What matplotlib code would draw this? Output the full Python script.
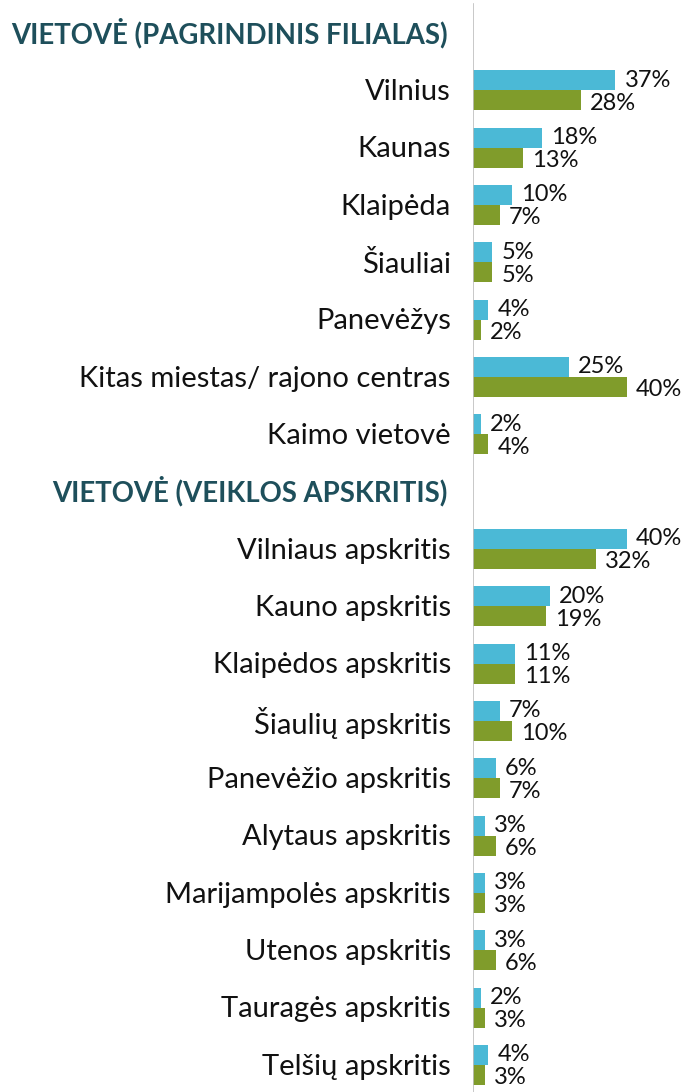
import numpy as np
import matplotlib.pyplot as plt

# rows top to bottom; each section starts with a header slot
headers = ["VIETOVĖ (PAGRINDINIS FILIALAS)", "VIETOVĖ (VEIKLOS APSKRITIS)"]
labels_1 = ["Vilnius", "Kaunas", "Klaipėda", "Šiauliai", "Panevėžys",
            "Kitas miestas/ rajono centras", "Kaimo vietovė"]
blue_1 = [37, 18, 10, 5, 4, 25, 2]
green_1 = [28, 13, 7, 5, 2, 40, 4]
labels_2 = ["Vilniaus apskritis", "Kauno apskritis", "Klaipėdos apskritis",
            "Šiaulių apskritis", "Panevėžio apskritis", "Alytaus apskritis",
            "Marijampolės apskritis", "Utenos apskritis", "Tauragės apskritis",
            "Telšių apskritis"]
blue_2 = [40, 20, 11, 7, 6, 3, 3, 3, 2, 4]
green_2 = [32, 19, 11, 10, 7, 6, 3, 6, 3, 3]

BLUE = "#4BB9D6"
GREEN = "#809C2B"
HEAD = "#1E4F5B"
FONT = "Lato"

fig = plt.figure(figsize=(6.87, 10.92), dpi=100)
W, H = 687, 1092
x0 = 473
slot = 57.33
first = 33
ax = fig.add_axes([x0 / W, 0, 1 - x0 / W, 1])
ax.set_xlim(0, (W - x0) / 3.85)
ax.set_ylim(18 + (H - first - 18 * slot) / slot, -first / slot)
ax.axis("off")

rows = []
pos = 0
for head, labs, bl, gr in [(headers[0], labels_1, blue_1, green_1),
                           (headers[1], labels_2, blue_2, green_2)]:
    ax.annotate(head, (0, pos), xytext=(-18, 0), textcoords="offset points",
                ha="right", va="center", fontsize=19.8, fontweight="bold",
                color=HEAD, family=FONT, annotation_clip=False)
    pos += 1
    for lab, b, g in zip(labs, bl, gr):
        rows.append((pos, lab, b, g))
        pos += 1

h = 0.35
for y, lab, b, g in rows:
    ax.barh(y - h / 2, b, height=h, color=BLUE, edgecolor="none")
    ax.barh(y + h / 2, g, height=h, color=GREEN, edgecolor="none")
    ax.annotate(lab, (0, y + 0.03), xytext=(-16, 0), textcoords="offset points",
                ha="right", va="center", fontsize=21, family=FONT,
                color="#111111", annotation_clip=False)
    ax.annotate(f"{b}%", (b, y - h / 2), xytext=(6.5, 0), textcoords="offset points",
                ha="left", va="center", fontsize=17, family=FONT, color="#111111",
                annotation_clip=False)
    ax.annotate(f"{g}%", (g, y + h / 2 + 0.05), xytext=(6.5, 0), textcoords="offset points",
                ha="left", va="center", fontsize=17, family=FONT, color="#111111",
                annotation_clip=False)

ax.axvline(0, ymin=0, ymax=1 - 4 / H, color="#BFBFBF", linewidth=1.2)

fig.savefig("out.png", dpi=100)
